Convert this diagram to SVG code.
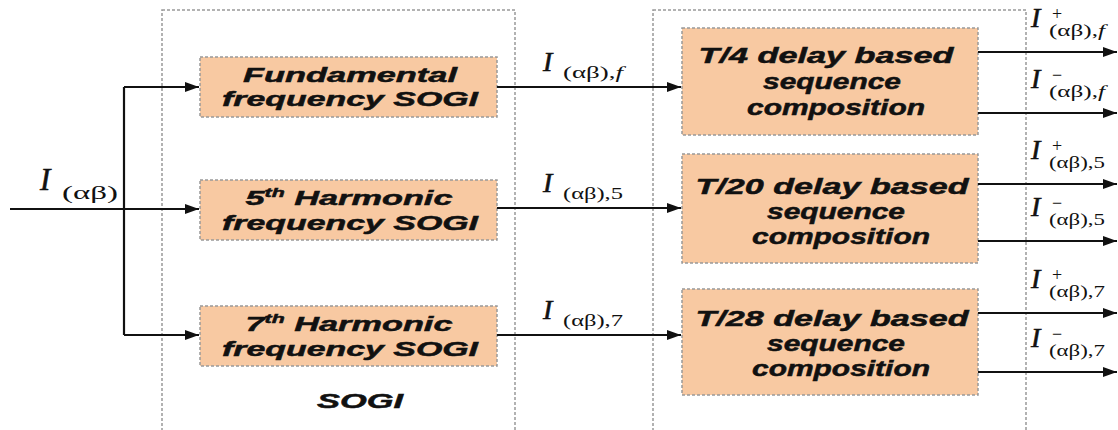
<svg xmlns="http://www.w3.org/2000/svg" width="1118" height="430" viewBox="0 0 1118 430">
<style>
.outer{fill:none;stroke:#999;stroke-width:1.5;stroke-dasharray:3,2}
.blk{fill:#f8c9a2;stroke:#999;stroke-width:1.5;stroke-dasharray:3,2}
.bt{font-family:"Liberation Sans",Arial,sans-serif;font-weight:bold;font-style:italic;font-size:21px;fill:#111;stroke:#111;stroke-width:0.5;text-anchor:middle}
.rt{font-size:22px}
.sym{font-family:"Liberation Serif","Times New Roman",serif;fill:#111}
.I{font-style:italic;font-size:28px;stroke:#111;stroke-width:0.6}
.IL{font-style:italic;font-size:31px;stroke:#111;stroke-width:0.6}
.sub{font-size:17px}
.so{font-size:16px}
.sup{font-size:18px}
.w{stroke:#111;stroke-width:2.2;fill:none}
</style>
<defs>
<marker id="ah" viewBox="0 0 14 10" refX="14" refY="5" markerWidth="14" markerHeight="10" orient="auto" markerUnits="userSpaceOnUse">
<path d="M0,0 L14,5 L0,10 z" fill="#111"/>
</marker>
</defs>
<rect width="1118" height="430" fill="#fff"/>
<g id="sogi-group">
<rect class="outer" x="162" y="10" width="353" height="430"/>
<text class="bt" x="360" y="408" font-size="19" textLength="86" lengthAdjust="spacingAndGlyphs">SOGI</text>
</g>
<g id="seq-group">
<rect class="outer" x="653" y="10" width="373" height="430"/>
</g>
<g id="sogi-f">
<rect class="blk" x="200" y="57" width="297" height="60"/>
<text class="bt" x="350" y="82" textLength="214" lengthAdjust="spacingAndGlyphs">Fundamental</text>
<text class="bt" x="350" y="106" textLength="256" lengthAdjust="spacingAndGlyphs">frequency SOGI</text>
</g>
<g id="sogi-5">
<rect class="blk" x="200" y="180" width="297" height="60"/>
<text class="bt" x="349" y="205" textLength="207" lengthAdjust="spacingAndGlyphs">5<tspan font-size="13" dy="-8">th</tspan><tspan dy="8"> Harmonic</tspan></text>
<text class="bt" x="350" y="230" textLength="256" lengthAdjust="spacingAndGlyphs">frequency SOGI</text>
</g>
<g id="sogi-7">
<rect class="blk" x="200" y="306" width="297" height="60"/>
<text class="bt" x="349" y="331" textLength="207" lengthAdjust="spacingAndGlyphs">7<tspan font-size="13" dy="-8">th</tspan><tspan dy="8"> Harmonic</tspan></text>
<text class="bt" x="350" y="356" textLength="256" lengthAdjust="spacingAndGlyphs">frequency SOGI</text>
</g>
<g id="seq-f">
<rect class="blk" x="682" y="28" width="296" height="107"/>
<text class="bt rt" x="826" y="63" textLength="255" lengthAdjust="spacingAndGlyphs">T/4 delay based</text>
<text class="bt rt" x="832" y="89" textLength="138" lengthAdjust="spacingAndGlyphs">sequence</text>
<text class="bt rt" x="836" y="115" textLength="178" lengthAdjust="spacingAndGlyphs">composition</text>
</g>
<g id="seq-5">
<rect class="blk" x="682" y="154" width="296" height="109"/>
<text class="bt rt" x="832" y="194" textLength="273" lengthAdjust="spacingAndGlyphs">T/20 delay based</text>
<text class="bt rt" x="836" y="219" textLength="138" lengthAdjust="spacingAndGlyphs">sequence</text>
<text class="bt rt" x="841" y="244" textLength="178" lengthAdjust="spacingAndGlyphs">composition</text>
</g>
<g id="seq-7">
<rect class="blk" x="682" y="289" width="296" height="106"/>
<text class="bt rt" x="832" y="326" textLength="273" lengthAdjust="spacingAndGlyphs">T/28 delay based</text>
<text class="bt rt" x="836" y="351" textLength="138" lengthAdjust="spacingAndGlyphs">sequence</text>
<text class="bt rt" x="841" y="376" textLength="178" lengthAdjust="spacingAndGlyphs">composition</text>
</g>
<g id="connectors">
<path class="w" d="M10,209 H199" marker-end="url(#ah)"/>
<path class="w" d="M124,87 V335"/>
<path class="w" d="M124,87 H199" marker-end="url(#ah)"/>
<path class="w" d="M124,335 H199" marker-end="url(#ah)"/>
<path class="w" d="M497,87 H681" marker-end="url(#ah)"/>
<path class="w" d="M497,208 H681" marker-end="url(#ah)"/>
<path class="w" d="M497,335 H681" marker-end="url(#ah)"/>
<path class="w" d="M978,52 H1117" marker-end="url(#ah)"/>
<path class="w" d="M978,113 H1117" marker-end="url(#ah)"/>
<path class="w" d="M978,184 H1117" marker-end="url(#ah)"/>
<path class="w" d="M978,241 H1117" marker-end="url(#ah)"/>
<path class="w" d="M978,313 H1117" marker-end="url(#ah)"/>
<path class="w" d="M978,372 H1117" marker-end="url(#ah)"/>
</g>
<g id="labels">
<text class="sym IL" x="40" y="190">I</text>
<text class="sym" x="62" y="199" font-size="19" textLength="56" lengthAdjust="spacingAndGlyphs">(αβ)</text>
<text class="sym I" x="543" y="71">I</text>
<text class="sym sub" x="563" y="78" textLength="60" lengthAdjust="spacingAndGlyphs">(αβ),<tspan font-style="italic">f</tspan></text>
<text class="sym I" x="543" y="192">I</text>
<text class="sym sub" x="563" y="199" textLength="60" lengthAdjust="spacingAndGlyphs">(αβ),5</text>
<text class="sym I" x="543" y="319">I</text>
<text class="sym sub" x="563" y="326" textLength="60" lengthAdjust="spacingAndGlyphs">(αβ),7</text>
<text class="sym I" x="1031" y="27">I</text><text class="sym sup" x="1052" y="20">+</text>
<text class="sym so" x="1049" y="36" textLength="56" lengthAdjust="spacingAndGlyphs">(αβ),<tspan font-style="italic">f</tspan></text>
<text class="sym I" x="1031" y="88">I</text><text class="sym sup" x="1052" y="81">−</text>
<text class="sym so" x="1049" y="97" textLength="56" lengthAdjust="spacingAndGlyphs">(αβ),<tspan font-style="italic">f</tspan></text>
<text class="sym I" x="1031" y="159">I</text><text class="sym sup" x="1052" y="152">+</text>
<text class="sym so" x="1049" y="168" textLength="56" lengthAdjust="spacingAndGlyphs">(αβ),5</text>
<text class="sym I" x="1031" y="216">I</text><text class="sym sup" x="1052" y="209">−</text>
<text class="sym so" x="1049" y="225" textLength="56" lengthAdjust="spacingAndGlyphs">(αβ),5</text>
<text class="sym I" x="1031" y="288">I</text><text class="sym sup" x="1052" y="281">+</text>
<text class="sym so" x="1049" y="297" textLength="56" lengthAdjust="spacingAndGlyphs">(αβ),7</text>
<text class="sym I" x="1031" y="347">I</text><text class="sym sup" x="1052" y="340">−</text>
<text class="sym so" x="1049" y="356" textLength="56" lengthAdjust="spacingAndGlyphs">(αβ),7</text>
</g>
</svg>
